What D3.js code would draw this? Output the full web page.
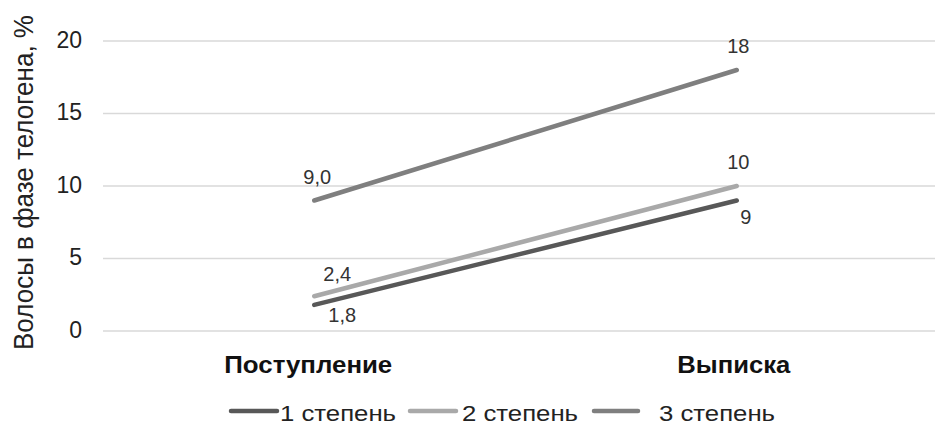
<!DOCTYPE html>
<html>
<head>
<meta charset="utf-8">
<script src="https://cdn.jsdelivr.net/npm/d3@7/dist/d3.min.js"></script>
<style>
  html, body { margin: 0; padding: 0; background: #fff; }
  svg { display: block; font-family: Arial, "Liberation Sans", sans-serif; }
</style>
</head>
<body>
<svg id="chart" width="935" height="427"></svg>
<script>
// Chart data
const categories = ["Поступление", "Выписка"];
const seriesNames = ["1 степень", "2 степень", "3 степень"];
const grade1 = [1.8, 9];
const grade2 = [2.4, 10];
const grade3 = [9.0, 18];
const valueLabels = [["1,8", "9"], ["2,4", "10"], ["9,0", "18"]];
const yTicks = [0, 5, 10, 15, 20];
const yTitle = "Волосы в фазе телогена, %";

const seriesValues = [grade1, grade2, grade3];
const colors = ["#585858", "#a9a9a9", "#7f7f7f"];
// label offsets relative to each point: [dx, dy of baseline]
const labelOffset = [
  [[28, 17], [9, 23]],
  [[23, -15.5], [1.5, -17.5]],
  [[3, -17], [1.5, -17]]
];

const svg = d3.select("#chart");
const W = 935;
const plot = { left: 103, right: 948, top: 41, bottom: 331 };

const x = d3.scaleBand().domain(categories).range([plot.left, plot.right]);
const y = d3.scaleLinear().domain([0, 20]).range([plot.bottom, plot.top]);
const cx = c => x(c) + x.bandwidth() / 2;

// Horizontal gridlines
svg.append("g")
  .selectAll("line")
  .data(yTicks)
  .join("line")
  .attr("x1", plot.left)
  .attr("x2", W)
  .attr("y1", d => y(d))
  .attr("y2", d => y(d))
  .attr("stroke", "#d9d9d9")
  .attr("stroke-width", 1.3);

// Y tick labels
const yAxis = d3.axisLeft(y).tickValues(yTicks).tickSize(0).tickPadding(0);
const gy = svg.append("g").attr("transform", "translate(82,0)").call(yAxis);
gy.select(".domain").remove();
gy.selectAll("text")
  .attr("dy", "0.28em")
  .attr("font-size", 23)
  .attr("fill", "#222")
  .attr("font-family", "Arial, 'Liberation Sans', sans-serif");

// Y axis title
svg.append("text")
  .attr("transform", "translate(33,182.5) rotate(-90)")
  .attr("text-anchor", "middle")
  .attr("font-size", 27)
  .attr("fill", "#222")
  .attr("textLength", 335)
  .attr("lengthAdjust", "spacingAndGlyphs")
  .text(yTitle);

// X category labels
const catWidths = [168, 113];
const catShift = [-6, -3];
svg.append("g")
  .selectAll("text")
  .data(categories)
  .join("text")
  .attr("x", (d, i) => cx(d) + catShift[i])
  .attr("y", 373)
  .attr("text-anchor", "middle")
  .attr("font-size", 23)
  .attr("font-weight", "bold")
  .attr("fill", "#111")
  .attr("textLength", (d, i) => catWidths[i])
  .attr("lengthAdjust", "spacingAndGlyphs")
  .text(d => d);

// Lines
const line = d3.line()
  .x((d, i) => cx(categories[i]))
  .y(d => y(d));

svg.append("g")
  .selectAll("path")
  .data(seriesValues)
  .join("path")
  .attr("d", d => line(d))
  .attr("fill", "none")
  .attr("stroke", (d, i) => colors[i])
  .attr("stroke-width", 4.5)
  .attr("stroke-linecap", "round");

// Data labels
seriesValues.forEach((vals, s) => {
  vals.forEach((v, i) => {
    const off = labelOffset[s][i];
    svg.append("text")
      .attr("x", cx(categories[i]) + off[0])
      .attr("y", y(v) + off[1])
      .attr("text-anchor", "middle")
      .attr("font-size", 20)
      .attr("fill", "#333")
      .text(valueLabels[s][i]);
  });
});

// Legend
const legend = svg.append("g").attr("transform", "translate(0,411)");
const legendLineX = [231, 410, 594];
const legendLineW = [46, 46, 44];
const legendTextX = [280, 462, 659];
seriesNames.forEach((name, i) => {
  legend.append("line")
    .attr("x1", legendLineX[i]).attr("x2", legendLineX[i] + legendLineW[i])
    .attr("y1", 0).attr("y2", 0)
    .attr("stroke", colors[i])
    .attr("stroke-width", 4.5)
    .attr("stroke-linecap", "round");
  legend.append("text")
    .attr("x", legendTextX[i])
    .attr("y", 10)
    .attr("font-size", 22)
    .attr("fill", "#222")
    .attr("textLength", 116)
    .attr("lengthAdjust", "spacingAndGlyphs")
    .text(name);
});
</script>
</body>
</html>
